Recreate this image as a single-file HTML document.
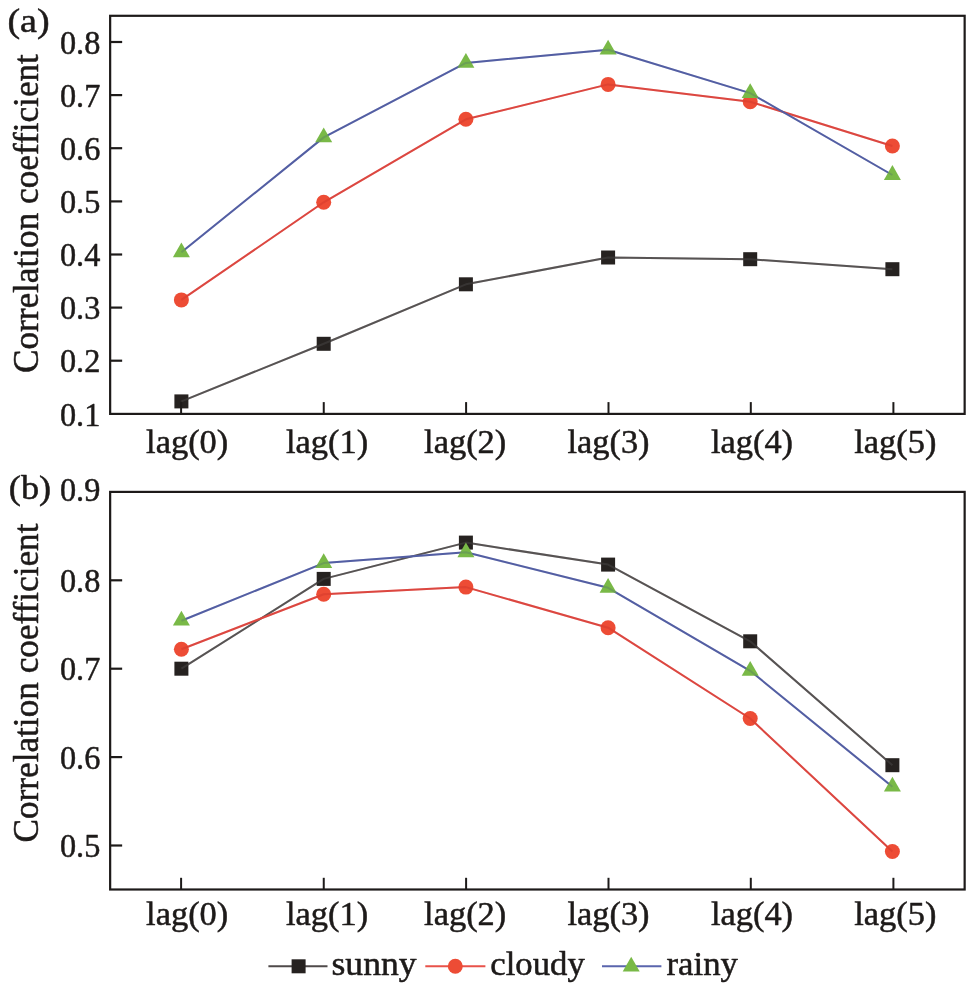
<!DOCTYPE html>
<html lang="en"><head><meta charset="utf-8"><title>Correlation coefficient vs lag</title>
<style>
html,body{margin:0;padding:0;background:#fff;}
body{width:979px;height:1000px;overflow:hidden;}
svg{display:block;}
svg text{font-family:"Liberation Serif","DejaVu Serif",serif;fill:#1d1a19;stroke:#1d1a19;stroke-width:0.5px;stroke-linejoin:round;}
</style></head><body>
<svg width="979" height="1000" viewBox="0 0 979 1000">
<rect width="979" height="1000" fill="#fff"/>
<polyline fill="none" stroke="#4f4a4a" stroke-width="2" stroke-linejoin="round" points="181.4,401.4 323.7,343.8 465.9,284.3 608.1,257.5 750.2,259.2 892.4,269.2"/>
<rect x="174.4" y="394.4" width="14.0" height="14.0" fill="#262220"/>
<rect x="316.7" y="336.8" width="14.0" height="14.0" fill="#262220"/>
<rect x="458.9" y="277.3" width="14.0" height="14.0" fill="#262220"/>
<rect x="601.1" y="250.5" width="14.0" height="14.0" fill="#262220"/>
<rect x="743.2" y="252.2" width="14.0" height="14.0" fill="#262220"/>
<rect x="885.4" y="262.2" width="14.0" height="14.0" fill="#262220"/>
<polyline fill="none" stroke="#777" stroke-opacity="0.22" stroke-width="2" stroke-linejoin="round" points="181.4,401.4 323.7,343.8 465.9,284.3 608.1,257.5 750.2,259.2 892.4,269.2"/>
<polyline fill="none" stroke="#e8524a" stroke-width="2" stroke-linejoin="round" points="181.4,299.9 323.7,202.3 465.9,119.3 608.1,84.4 750.2,101.7 892.4,146.0"/>
<circle cx="181.4" cy="299.9" r="7.5" fill="#ed4c35"/>
<circle cx="323.7" cy="202.3" r="7.5" fill="#ed4c35"/>
<circle cx="465.9" cy="119.3" r="7.5" fill="#ed4c35"/>
<circle cx="608.1" cy="84.4" r="7.5" fill="#ed4c35"/>
<circle cx="750.2" cy="101.7" r="7.5" fill="#ed4c35"/>
<circle cx="892.4" cy="146.0" r="7.5" fill="#ed4c35"/>
<polyline fill="none" stroke="#b02020" stroke-opacity="0.22" stroke-width="2" stroke-linejoin="round" points="181.4,299.9 323.7,202.3 465.9,119.3 608.1,84.4 750.2,101.7 892.4,146.0"/>
<polyline fill="none" stroke="#5a65ad" stroke-width="2" stroke-linejoin="round" points="181.4,252.3 323.7,137.4 465.9,62.9 608.1,49.7 750.2,93.1 892.4,175.0"/>
<polygon points="181.4,242.4 172.9,257.2 189.9,257.2" fill="#79b947"/>
<polygon points="323.7,127.5 315.2,142.3 332.2,142.3" fill="#79b947"/>
<polygon points="465.9,53.0 457.4,67.8 474.4,67.8" fill="#79b947"/>
<polygon points="608.1,39.8 599.6,54.6 616.6,54.6" fill="#79b947"/>
<polygon points="750.2,83.2 741.7,98.0 758.7,98.0" fill="#79b947"/>
<polygon points="892.4,165.1 883.9,179.9 900.9,179.9" fill="#79b947"/>
<polyline fill="none" stroke="#3a4a80" stroke-opacity="0.22" stroke-width="2" stroke-linejoin="round" points="181.4,252.3 323.7,137.4 465.9,62.9 608.1,49.7 750.2,93.1 892.4,175.0"/>
<rect x="110.15" y="15.8" width="854.5" height="398.1" fill="none" stroke="#1d1a19" stroke-width="2.2"/>
<text x="100.3" y="425.8" font-size="34" text-anchor="end" textLength="40.4" lengthAdjust="spacingAndGlyphs">0.1</text>
<line x1="110.15" y1="360.7" x2="122.15" y2="360.7" stroke="#1d1a19" stroke-width="2.2"/>
<text x="100.3" y="372.4" font-size="34" text-anchor="end" textLength="40.4" lengthAdjust="spacingAndGlyphs">0.2</text>
<line x1="110.15" y1="307.6" x2="122.15" y2="307.6" stroke="#1d1a19" stroke-width="2.2"/>
<text x="100.3" y="319.3" font-size="34" text-anchor="end" textLength="40.4" lengthAdjust="spacingAndGlyphs">0.3</text>
<line x1="110.15" y1="254.5" x2="122.15" y2="254.5" stroke="#1d1a19" stroke-width="2.2"/>
<text x="100.3" y="266.2" font-size="34" text-anchor="end" textLength="40.4" lengthAdjust="spacingAndGlyphs">0.4</text>
<line x1="110.15" y1="201.4" x2="122.15" y2="201.4" stroke="#1d1a19" stroke-width="2.2"/>
<text x="100.3" y="213.1" font-size="34" text-anchor="end" textLength="40.4" lengthAdjust="spacingAndGlyphs">0.5</text>
<line x1="110.15" y1="148.2" x2="122.15" y2="148.2" stroke="#1d1a19" stroke-width="2.2"/>
<text x="100.3" y="159.9" font-size="34" text-anchor="end" textLength="40.4" lengthAdjust="spacingAndGlyphs">0.6</text>
<line x1="110.15" y1="95.1" x2="122.15" y2="95.1" stroke="#1d1a19" stroke-width="2.2"/>
<text x="100.3" y="106.8" font-size="34" text-anchor="end" textLength="40.4" lengthAdjust="spacingAndGlyphs">0.7</text>
<line x1="110.15" y1="42.0" x2="122.15" y2="42.0" stroke="#1d1a19" stroke-width="2.2"/>
<text x="100.3" y="53.7" font-size="34" text-anchor="end" textLength="40.4" lengthAdjust="spacingAndGlyphs">0.8</text>
<line x1="181.1" y1="413.9" x2="181.1" y2="402.1" stroke="#1d1a19" stroke-width="2.0"/>
<text x="187.2" y="452.7" font-size="33" text-anchor="middle" textLength="82.2" lengthAdjust="spacingAndGlyphs">lag(0)</text>
<line x1="323.75" y1="413.9" x2="323.75" y2="402.1" stroke="#1d1a19" stroke-width="2.0"/>
<text x="327.1" y="452.7" font-size="33" text-anchor="middle" textLength="82.2" lengthAdjust="spacingAndGlyphs">lag(1)</text>
<line x1="466.1" y1="413.9" x2="466.1" y2="402.1" stroke="#1d1a19" stroke-width="2.0"/>
<text x="465.2" y="452.7" font-size="33" text-anchor="middle" textLength="82.2" lengthAdjust="spacingAndGlyphs">lag(2)</text>
<line x1="608.5" y1="413.9" x2="608.5" y2="402.1" stroke="#1d1a19" stroke-width="2.0"/>
<text x="608.5" y="452.7" font-size="33" text-anchor="middle" textLength="82.2" lengthAdjust="spacingAndGlyphs">lag(3)</text>
<line x1="750.8" y1="413.9" x2="750.8" y2="402.1" stroke="#1d1a19" stroke-width="2.0"/>
<text x="752.0" y="452.7" font-size="33" text-anchor="middle" textLength="82.2" lengthAdjust="spacingAndGlyphs">lag(4)</text>
<line x1="893.4" y1="413.9" x2="893.4" y2="402.1" stroke="#1d1a19" stroke-width="2.0"/>
<text x="895.3" y="452.7" font-size="33" text-anchor="middle" textLength="82.2" lengthAdjust="spacingAndGlyphs">lag(5)</text>
<text transform="translate(37.5,213.6) rotate(-90)" font-size="35" text-anchor="middle" textLength="319" lengthAdjust="spacingAndGlyphs">Correlation coefficient</text>
<text x="7.4" y="32.0" font-size="33" text-anchor="start" textLength="42.3" lengthAdjust="spacingAndGlyphs">(a)</text>
<polyline fill="none" stroke="#4f4a4a" stroke-width="2" stroke-linejoin="round" points="181.4,668.7 323.7,578.9 465.9,542.6 608.1,564.6 750.2,641.3 892.4,765.2"/>
<rect x="174.4" y="661.7" width="14.0" height="14.0" fill="#262220"/>
<rect x="316.7" y="571.9" width="14.0" height="14.0" fill="#262220"/>
<rect x="458.9" y="535.6" width="14.0" height="14.0" fill="#262220"/>
<rect x="601.1" y="557.6" width="14.0" height="14.0" fill="#262220"/>
<rect x="743.2" y="634.3" width="14.0" height="14.0" fill="#262220"/>
<rect x="885.4" y="758.2" width="14.0" height="14.0" fill="#262220"/>
<polyline fill="none" stroke="#777" stroke-opacity="0.22" stroke-width="2" stroke-linejoin="round" points="181.4,668.7 323.7,578.9 465.9,542.6 608.1,564.6 750.2,641.3 892.4,765.2"/>
<polyline fill="none" stroke="#e8524a" stroke-width="2" stroke-linejoin="round" points="181.4,649.2 323.7,594.3 465.9,587.1 608.1,627.7 750.2,718.5 892.4,851.5"/>
<circle cx="181.4" cy="649.2" r="7.5" fill="#ed4c35"/>
<circle cx="323.7" cy="594.3" r="7.5" fill="#ed4c35"/>
<circle cx="465.9" cy="587.1" r="7.5" fill="#ed4c35"/>
<circle cx="608.1" cy="627.7" r="7.5" fill="#ed4c35"/>
<circle cx="750.2" cy="718.5" r="7.5" fill="#ed4c35"/>
<circle cx="892.4" cy="851.5" r="7.5" fill="#ed4c35"/>
<polyline fill="none" stroke="#b02020" stroke-opacity="0.22" stroke-width="2" stroke-linejoin="round" points="181.4,649.2 323.7,594.3 465.9,587.1 608.1,627.7 750.2,718.5 892.4,851.5"/>
<polyline fill="none" stroke="#5a65ad" stroke-width="2" stroke-linejoin="round" points="181.4,620.7 323.7,563.1 465.9,552.3 608.1,587.8 750.2,670.8 892.4,786.7"/>
<polygon points="181.4,610.8 172.9,625.6 189.9,625.6" fill="#79b947"/>
<polygon points="323.7,553.2 315.2,568.0 332.2,568.0" fill="#79b947"/>
<polygon points="465.9,542.4 457.4,557.2 474.4,557.2" fill="#79b947"/>
<polygon points="608.1,577.9 599.6,592.7 616.6,592.7" fill="#79b947"/>
<polygon points="750.2,660.9 741.7,675.7 758.7,675.7" fill="#79b947"/>
<polygon points="892.4,776.8 883.9,791.6 900.9,791.6" fill="#79b947"/>
<polyline fill="none" stroke="#3a4a80" stroke-opacity="0.22" stroke-width="2" stroke-linejoin="round" points="181.4,620.7 323.7,563.1 465.9,552.3 608.1,587.8 750.2,670.8 892.4,786.7"/>
<rect x="110.15" y="491.9" width="854.5" height="397.6" fill="none" stroke="#1d1a19" stroke-width="2.2"/>
<line x1="110.15" y1="845.5" x2="122.15" y2="845.5" stroke="#1d1a19" stroke-width="2.2"/>
<text x="100.3" y="857.2" font-size="34" text-anchor="end" textLength="40.4" lengthAdjust="spacingAndGlyphs">0.5</text>
<line x1="110.15" y1="757.1" x2="122.15" y2="757.1" stroke="#1d1a19" stroke-width="2.2"/>
<text x="100.3" y="768.8" font-size="34" text-anchor="end" textLength="40.4" lengthAdjust="spacingAndGlyphs">0.6</text>
<line x1="110.15" y1="668.7" x2="122.15" y2="668.7" stroke="#1d1a19" stroke-width="2.2"/>
<text x="100.3" y="680.4" font-size="34" text-anchor="end" textLength="40.4" lengthAdjust="spacingAndGlyphs">0.7</text>
<line x1="110.15" y1="580.3" x2="122.15" y2="580.3" stroke="#1d1a19" stroke-width="2.2"/>
<text x="100.3" y="592.0" font-size="34" text-anchor="end" textLength="40.4" lengthAdjust="spacingAndGlyphs">0.8</text>
<text x="100.3" y="500.6" font-size="34" text-anchor="end" textLength="40.4" lengthAdjust="spacingAndGlyphs">0.9</text>
<line x1="181.1" y1="889.55" x2="181.1" y2="877.8" stroke="#1d1a19" stroke-width="2.0"/>
<text x="187.2" y="924.5" font-size="33" text-anchor="middle" textLength="82.2" lengthAdjust="spacingAndGlyphs">lag(0)</text>
<line x1="323.75" y1="889.55" x2="323.75" y2="877.8" stroke="#1d1a19" stroke-width="2.0"/>
<text x="327.1" y="924.5" font-size="33" text-anchor="middle" textLength="82.2" lengthAdjust="spacingAndGlyphs">lag(1)</text>
<line x1="466.1" y1="889.55" x2="466.1" y2="877.8" stroke="#1d1a19" stroke-width="2.0"/>
<text x="465.2" y="924.5" font-size="33" text-anchor="middle" textLength="82.2" lengthAdjust="spacingAndGlyphs">lag(2)</text>
<line x1="608.5" y1="889.55" x2="608.5" y2="877.8" stroke="#1d1a19" stroke-width="2.0"/>
<text x="608.5" y="924.5" font-size="33" text-anchor="middle" textLength="82.2" lengthAdjust="spacingAndGlyphs">lag(3)</text>
<line x1="750.8" y1="889.55" x2="750.8" y2="877.8" stroke="#1d1a19" stroke-width="2.0"/>
<text x="752.0" y="924.5" font-size="33" text-anchor="middle" textLength="82.2" lengthAdjust="spacingAndGlyphs">lag(4)</text>
<line x1="893.4" y1="889.55" x2="893.4" y2="877.8" stroke="#1d1a19" stroke-width="2.0"/>
<text x="895.3" y="924.5" font-size="33" text-anchor="middle" textLength="82.2" lengthAdjust="spacingAndGlyphs">lag(5)</text>
<text transform="translate(37.5,683.0) rotate(-90)" font-size="35" text-anchor="middle" textLength="319" lengthAdjust="spacingAndGlyphs">Correlation coefficient</text>
<text x="8.8" y="499.0" font-size="33" text-anchor="start" textLength="42.3" lengthAdjust="spacingAndGlyphs">(b)</text>
<line x1="268.4" y1="966.3" x2="327.5" y2="966.3" stroke="#4f4a4a" stroke-width="2"/>
<rect x="291.6" y="959.3" width="14.0" height="14.0" fill="#262220"/>
<text x="331.5" y="975.0" font-size="33" text-anchor="start" textLength="85" lengthAdjust="spacingAndGlyphs">sunny</text>
<line x1="425.3" y1="966.3" x2="485.4" y2="966.3" stroke="#e8524a" stroke-width="2"/>
<circle cx="455.3" cy="966.3" r="7.5" fill="#ed4c35"/>
<text x="490.3" y="975.0" font-size="33" text-anchor="start" textLength="94.5" lengthAdjust="spacingAndGlyphs">cloudy</text>
<line x1="602" y1="966.3" x2="661.4" y2="966.3" stroke="#5a65ad" stroke-width="2"/>
<polygon points="631.2,956.7 622.7,971.5 639.7,971.5" fill="#79b947"/>
<text x="666.5" y="975.0" font-size="33" text-anchor="start" textLength="71.4" lengthAdjust="spacingAndGlyphs">rainy</text>
</svg>
</body></html>
